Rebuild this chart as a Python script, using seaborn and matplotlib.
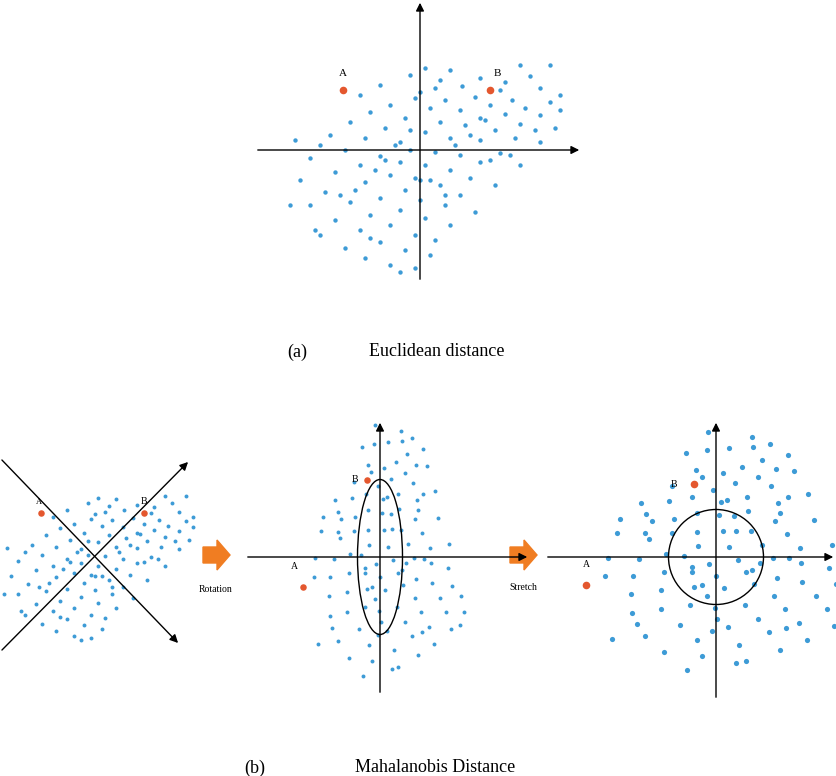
import numpy as np
import matplotlib
matplotlib.use("Agg")
import matplotlib.pyplot as plt
import seaborn as sns
from matplotlib.patches import Ellipse, FancyArrow

# base cloud (pixel offsets from origin in panel (a), y up)
cloud_x = [100,5,30,130,-10,60,110,20,85,-40,15,42,80,120,0,140,-60,-5,25,55,92,130,70,105,
           -30,10,40,-50,85,120,60,-15,20,-70,45,100,135,-35,75,5,-90,-55,30,60,95,-20,120,-100,
           -10,-75,15,40,80,-40,-110,-20,60,5,-60,100,30,-85,-30,-5,50,-120,-55,20,75,-15,-95,40,
           -40,0,-70,25,-110,-20,55,-50,5,-85,-30,30,-60,-5,-100,15,-40,-75,-15,10,-55,-30,-5,-20,
           -130,-105,140,-125,65,-45,35,-25,90,-65,10,-10,50,-35,25,-80,115,70,-50,0]
cloud_y = [85,82,80,85,75,72,74,70,68,65,62,64,60,62,58,55,55,52,50,53,50,48,45,42,
           45,42,40,38,36,35,32,32,28,28,25,26,22,22,20,18,15,12,12,10,12,8,8,5,
           0,0,-2,-5,-3,-6,-8,-12,-12,-15,-15,-15,-20,-22,-25,-28,-28,-30,-32,-35,-35,-40,-42,-45,
           -48,-50,-52,-55,-55,-60,-62,-65,-68,-70,-75,-75,-80,-85,-85,-90,-92,-98,-100,-105,-108,-115,-118,-122,
           -55,-80,40,10,30,-20,5,5,-5,-40,-30,20,15,-10,-45,-45,20,-10,-88,-30]
pt_A = (-77, 60)
pt_B = (70, 60)

blue = "#3d9bd6"; red = "#e4572e"
fig = plt.figure(figsize=(8.37, 7.76), dpi=100)
ax = fig.add_axes([0, 0, 1, 1])
ax.set_xlim(0, 837); ax.set_ylim(776, 0); ax.axis("off")
serif = "Liberation Serif"

def arrow(x0, y0, x1, y1):
    ax.annotate("", xy=(x1, y1), xytext=(x0, y0),
                arrowprops=dict(arrowstyle="-|>", color="black", lw=1, mutation_scale=12))

X = np.array(cloud_x, float); Y = np.array(cloud_y, float)
A = np.array(pt_A, float); B = np.array(pt_B, float)

# panel (a)
cx, cy = 420, 150
arrow(255, cy, 582, cy); arrow(cx, 282, cx, 0)
sns.scatterplot(x=cx + X, y=cy - Y, ax=ax, s=10, color=blue, linewidth=0)
sns.scatterplot(x=[cx + A[0], cx + B[0]], y=[cy - A[1], cy - B[1]], ax=ax, s=30, color=red, linewidth=0)
ax.text(cx + A[0], cy - A[1] - 14, "A", ha="center", fontsize=8, family=serif)
ax.text(cx + B[0] + 7, cy - B[1] - 14, "B", ha="center", fontsize=8, family=serif)
ax.text(297, 352, "(a)", ha="center", va="center", fontsize=13, family=serif)
ax.text(437, 352, "Euclidean distance", ha="center", va="center", fontsize=13, family=serif)

# panel (b1): same cloud, rotated axes
k = 0.7; cx, cy = 95, 555
arrow(0, 652, 190, 460); arrow(0, 458, 180, 645)
sns.scatterplot(x=cx + k * X, y=cy - k * Y, ax=ax, s=8, color=blue, linewidth=0)
sns.scatterplot(x=[cx + k * A[0], cx + k * B[0]], y=[cy - k * A[1], cy - k * B[1]], ax=ax, s=22, color=red, linewidth=0)
ax.text(cx + k * B[0], cy - k * B[1] - 9, "B", ha="center", fontsize=7, family=serif)
ax.text(cx + k * A[0] - 2, cy - k * A[1] - 9, "A", ha="center", fontsize=6, family=serif)

# rotation to make major axis vertical (B on top)
cov = np.cov(np.vstack([X, Y]))
w, v = np.linalg.eigh(cov)
major = v[:, 1]
if major[0] < 0:
    major = -major
ang = np.arctan2(major[1], major[0])
rot = np.pi / 2 - ang
R = np.array([[np.cos(rot), -np.sin(rot)], [np.sin(rot), np.cos(rot)]])
P = R @ np.vstack([X, Y]); PA = R @ A; PB = R @ B

# orange arrows
for x0, lab, ly in [(203, "Rotation", 592), (510, "Stretch", 590)]:
    ax.add_patch(FancyArrow(x0, 555, 14, 0, width=16, head_width=30, head_length=13, color="#f07d22"))
    ax.text(x0 + 13, ly, lab, ha="center", fontsize=7, family=serif)

# panel (b2)
k = 0.85; cx, cy = 380, 557
arrow(245, cy, 530, cy); arrow(cx, 695, cx, 420)
sns.scatterplot(x=cx + k * P[0], y=cy - k * P[1], ax=ax, s=8, color=blue, linewidth=0)
sns.scatterplot(x=[cx + k * PA[0], cx + k * PB[0]], y=[cy - k * PA[1], cy - k * PB[1]], ax=ax, s=22, color=red, linewidth=0)
ax.add_patch(Ellipse((cx, cy), 45, 155, fill=False, lw=1, color="black"))
ax.text(cx + k * PA[0] - 8, cy - k * PA[1] - 18, "A", ha="center", fontsize=7, family=serif)
ax.text(cx + k * PB[0] - 12, cy - k * PB[1] + 2, "B", ha="center", fontsize=7, family=serif)

# panel (b3): stretched
sx, sy = P[0].std(), P[1].std()
S = np.array([60 / sx, 60 / sy])
cx, cy = 716, 557
arrow(545, cy, 836, cy); arrow(cx, 700, cx, 420)
sns.scatterplot(x=cx + S[0] * P[0], y=cy - S[1] * P[1], ax=ax, s=14, color=blue, linewidth=0, marker="o")
sns.scatterplot(x=[cx + S[0] * PA[0], cx + S[0] * PB[0]], y=[cy - S[1] * PA[1], cy - S[1] * PB[1]], ax=ax, s=30, color=red, linewidth=0)
ax.add_patch(Ellipse((cx, cy), 95, 95, fill=False, lw=1, color="black"))
ax.text(cx + S[0] * PA[0], cy - S[1] * PA[1] - 18, "A", ha="center", fontsize=7, family=serif)
ax.text(cx + S[0] * PB[0] - 20, cy - S[1] * PB[1] + 3, "B", ha="center", fontsize=7, family=serif)

ax.text(255, 768, "(b)", ha="center", va="center", fontsize=13, family=serif)
ax.text(435, 768, "Mahalanobis Distance", ha="center", va="center", fontsize=13, family=serif)

fig.savefig("out.png", dpi=100)
